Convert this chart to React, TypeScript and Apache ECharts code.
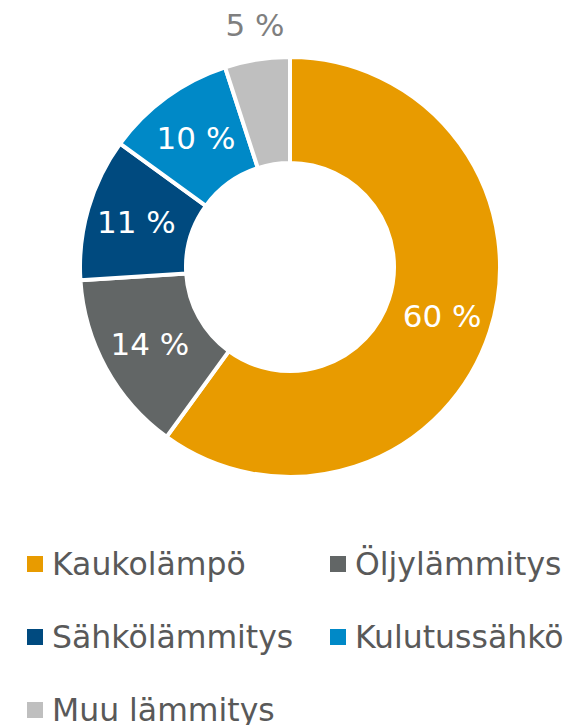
import React, { useEffect, useRef } from "react";
import * as echarts from "echarts";

const categories = ["Kaukolämpö", "Öljylämmitys", "Sähkölämmitys", "Kulutussähkö", "Muu lämmitys"];
const values = [60, 14, 11, 10, 5];
const colors = ["#E89B00", "#626666", "#004A7F", "#0089C7", "#BFBFBF"];

const FONT = "'DejaVu Sans', Verdana, sans-serif";

export default function App() {
  const ref = useRef<HTMLDivElement>(null);
  useEffect(() => {
    document.body.style.margin = "0";
    const chart = echarts.init(ref.current!, null, { renderer: "svg" });
    const legendPos = [
      [25, 548],
      [328, 548],
      [25, 621],
      [328, 621],
      [25, 694],
    ];
    const legends = categories.map((name, i) => ({
      data: [name],
      left: legendPos[i][0],
      top: legendPos[i][1],
      padding: 0,
      orient: "horizontal",
      icon: "rect",
      itemWidth: 18,
      itemHeight: 18,
      selectedMode: false,
      textStyle: {
        fontSize: 31.5,
        lineHeight: 32,
        color: "#595959",
        fontFamily: FONT,
        padding: [0, 0, 0, 3],
      },
    }));
    chart.setOption({
      animation: false,
      legend: legends,
      series: [
        {
          type: "pie",
          center: [290, 267],
          radius: [104, 210],
          startAngle: 90,
          clockwise: true,
          avoidLabelOverlap: false,
          itemStyle: { borderColor: "#ffffff", borderWidth: 4 },
          label: {
            show: true,
            position: "inside",
            formatter: "{c} %",
            color: "#ffffff",
            fontSize: 31,
            fontFamily: FONT,
          },
          labelLine: { show: false },
          emphasis: { disabled: true },
          data: categories.map((name, i) => {
            const item: any = { name, value: values[i], itemStyle: { color: colors[i] } };
            if (i === 4) {
              item.label = { color: "#7F7F7F", offset: [-10, -84] };
            }
            return item;
          }),
        },
      ],
    });
    return () => chart.dispose();
  }, []);
  return <div ref={ref} style={{ width: 567, height: 725 }} />;
}
